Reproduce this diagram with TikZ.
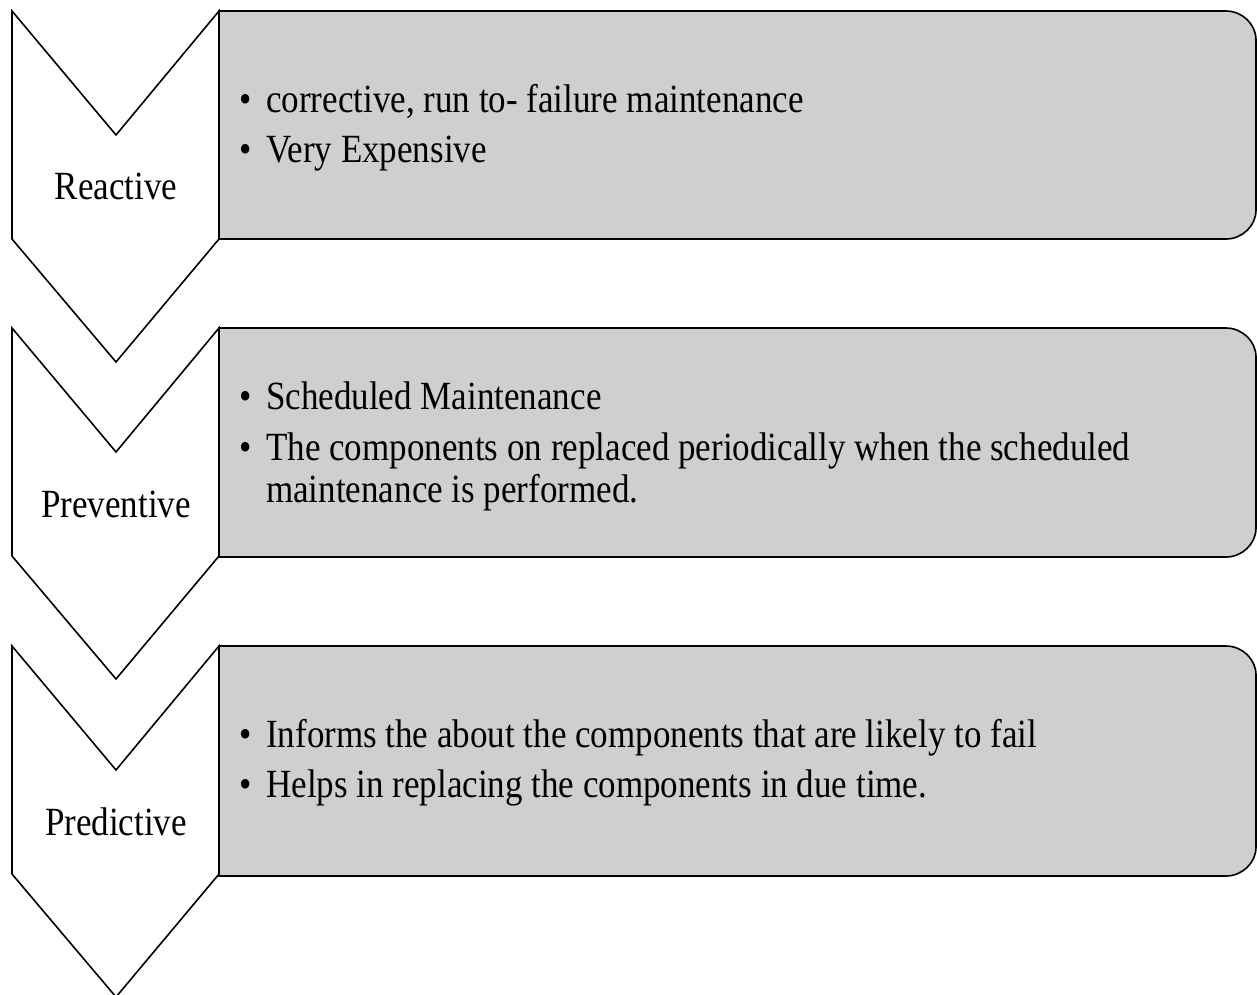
\documentclass[tikz,border=0pt]{standalone}
\usepackage{fontspec}
\setmainfont{Liberation Serif}[FakeStretch=0.875]
\definecolor{boxgray}{HTML}{CFCFCF}
\begin{document}
\begin{tikzpicture}[x=1pt,y=-1pt,
  chev/.style={draw=black,line width=1.6pt,fill=white,line join=miter},
  box/.style={draw=black,line width=1.6pt,fill=boxgray},
  lbl/.style={font=\fontsize{40}{48}\selectfont,inner sep=0pt,anchor=base},
  txt/.style={font=\fontsize{40}{48}\selectfont,inner sep=0pt,anchor=base west},
  bul/.style={font=\fontsize{40}{48}\selectfont,inner sep=0pt,anchor=base}]
\useasboundingbox (0,0) rectangle (1257,994);
% boxes
\foreach \t/\b in {11/239, 328/557, 646/876}{
  \draw[box] (219,\t) -- (1226,\t) .. controls (1242,\t) and (1256,\t+13) .. (1256,\t+29)
    -- (1256,\b-29) .. controls (1256,\b-13) and (1242,\b) .. (1226,\b) -- (219,\b) -- cycle;
}
% chevrons
\foreach \d in {0,317,635}{
  \draw[chev] (12,11+\d) -- (116,135+\d) -- (219,11+\d) -- (219,239+\d) -- (116,362+\d) -- (12,239+\d) -- cycle;
}
% chevron labels
\node[lbl] (c1) at (116,199) {Reactive};
\node[lbl] (c2) at (116,517) {Preventive};
\node[lbl] (c3) at (116,835) {Predictive};
% box 1
\node[bul] (b11) at (246,112) {•};
\node[txt] (t11) at (266,112) {corrective, run to- failure maintenance};
\node[bul] (b12) at (246,162) {•};
\node[txt] (t12) at (266,162) {Very Expensive};
% box 2
\node[bul] (b21) at (246,409) {•};
\node[txt] (t21) at (266,409) {Scheduled Maintenance};
\node[bul] (b22) at (246,460) {•};
\node[txt] (t22) at (266,460) {The components on replaced periodically when the scheduled};
\node[txt] (t23) at (266,502) {maintenance is performed.};
% box 3
\node[bul] (b31) at (246,747) {•};
\node[txt] (t31) at (266,747) {Informs the about the components that are likely to fail};
\node[bul] (b32) at (246,797) {•};
\node[txt] (t32) at (266,797) {Helps in replacing the components in due time.};
\end{tikzpicture}
\end{document}
